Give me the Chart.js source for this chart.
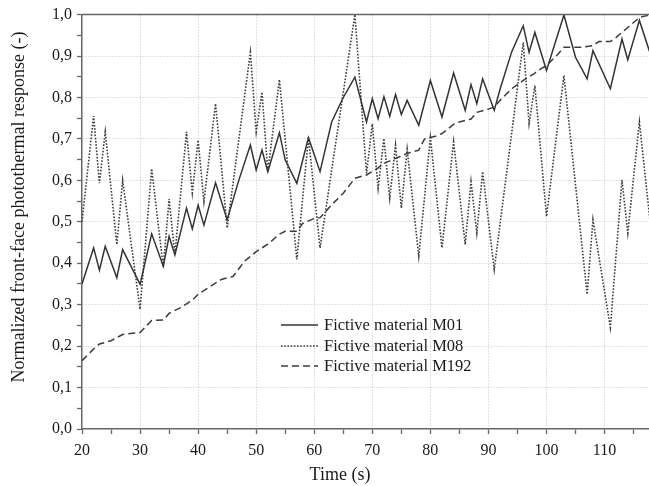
<!DOCTYPE html>
<html>
<head>
<meta charset="utf-8">
<script src="https://cdn.jsdelivr.net/npm/chart.js@4/dist/chart.umd.min.js"></script>
<style>
  html, body { margin: 0; padding: 0; background: #fff; overflow: hidden; }
  #wrap { width: 649px; height: 486px; overflow: hidden; position: relative; }
  canvas { display: block; }
</style>
</head>
<body>
<div id="wrap"><canvas id="c" width="652" height="486"></canvas></div>
<script>
// ---- Data ----
const xTitle = "Time (s)";
const yTitle = "Normalized front-face photothermal response (-)";
const seriesNames = ["Fictive material M01", "Fictive material M08", "Fictive material M192"];

const m01X = [20,22,23,24,26,27,30,32,34,35,36,38,39,40,41,43,45,47,49,50,51,52,54,55,57,59,61,63,65,67,69,70,71,72,73,74,75,76,78,80,82,84,86,87,88,89,91,92,94,96,97,98,100,103,105,107,108,111,113,114,116,118];
const m01Y = [0.350,0.437,0.383,0.441,0.365,0.433,0.349,0.471,0.393,0.465,0.420,0.533,0.483,0.540,0.492,0.594,0.505,0.600,0.685,0.625,0.673,0.621,0.715,0.649,0.593,0.703,0.621,0.741,0.800,0.849,0.741,0.797,0.749,0.802,0.755,0.807,0.759,0.793,0.733,0.841,0.753,0.859,0.769,0.831,0.785,0.845,0.769,0.820,0.910,0.973,0.909,0.957,0.865,0.999,0.897,0.845,0.913,0.821,0.941,0.891,0.986,0.900];

const m08X = [20,22,23,24,26,27,30,32,34,35,36,38,39,40,41,43,45,49,50,51,52,54,57,59,61,67,69,70,71,72,73,74,75,76,78,80,82,84,86,87,88,89,91,96,97,98,100,103,107,108,111,113,114,116,118];
const m08Y = [0.500,0.755,0.593,0.717,0.445,0.600,0.289,0.628,0.390,0.555,0.421,0.717,0.570,0.697,0.549,0.785,0.485,0.909,0.717,0.813,0.621,0.843,0.409,0.703,0.437,1.000,0.617,0.736,0.581,0.701,0.557,0.685,0.533,0.675,0.417,0.703,0.437,0.693,0.445,0.597,0.473,0.621,0.385,0.933,0.737,0.829,0.513,0.853,0.325,0.505,0.245,0.601,0.473,0.741,0.480];

const m192X = [20,22,23,25,27,30,32,34,35,37,39,40,42,44,46,48,50,52,54,55,57,58,60,61,63,65,67,69,71,72,74,76,78,79,81,82,84,85,87,88,90,91,92,94,96,98,99,100,102,103,106,108,109,111,112,114,116,118];
const m192Y = [0.165,0.193,0.205,0.213,0.228,0.233,0.262,0.263,0.279,0.293,0.311,0.325,0.343,0.361,0.368,0.405,0.428,0.446,0.470,0.477,0.477,0.496,0.508,0.510,0.541,0.569,0.605,0.613,0.630,0.641,0.653,0.665,0.673,0.700,0.707,0.713,0.735,0.741,0.748,0.764,0.772,0.777,0.793,0.821,0.841,0.859,0.869,0.877,0.905,0.921,0.921,0.925,0.935,0.935,0.945,0.969,0.993,1.000];

const xMin = 20, xMax = 118, xStep = 5;
const yMin = 0, yMax = 1, yStep = 0.05;

// ---- Styling ----
const FONT = "'Liberation Serif', 'Times New Roman', serif";
const lineColor = '#333333';
const axisColor = '#666666';
const gridColor = '#c4c4c4';
const textColor = '#1a1a1a';

const toPts = (xs, ys) => xs.map((x, i) => ({ x: x, y: ys[i] }));

const decor = {
  id: 'decor',
  afterDraw(chart) {
    const ctx = chart.ctx;
    const a = chart.chartArea;
    ctx.save();
    // top frame line
    ctx.strokeStyle = axisColor;
    ctx.lineWidth = 1.5;
    ctx.beginPath();
    ctx.moveTo(a.left, a.top);
    ctx.lineTo(a.right, a.top);
    ctx.stroke();
    // axis titles
    ctx.fillStyle = textColor;
    ctx.font = "18px " + FONT;
    ctx.textAlign = 'center';
    ctx.textBaseline = 'middle';
    ctx.fillText(xTitle, 340, 475);
    ctx.save();
    ctx.translate(19, 207);
    ctx.rotate(-Math.PI / 2);
    ctx.fillText(yTitle, 0, 0);
    ctx.restore();
    // legend
    const rows = [325, 346, 366];
    chart.data.datasets.forEach((ds, i) => {
      const y = rows[i];
      ctx.save();
      ctx.strokeStyle = ds.borderColor;
      ctx.lineWidth = ds.borderWidth;
      ctx.setLineDash(ds.borderDash || []);
      ctx.beginPath();
      ctx.moveTo(281, y);
      ctx.lineTo(318, y);
      ctx.stroke();
      ctx.restore();
      ctx.font = "16.5px " + FONT;
      ctx.textAlign = 'left';
      ctx.textBaseline = 'middle';
      ctx.fillStyle = textColor;
      ctx.fillText(ds.label, 324, y + 1);
    });
    ctx.restore();
  }
};

Chart.defaults.font.family = FONT;

new Chart(document.getElementById('c'), {
  type: 'line',
  data: {
    datasets: [
      { label: seriesNames[0], data: toPts(m01X, m01Y), borderColor: lineColor, borderWidth: 1.5, borderDash: [] },
      { label: seriesNames[1], data: toPts(m08X, m08Y), borderColor: '#3c3c3c', borderWidth: 1.6, borderDash: [1.6, 1.6] },
      { label: seriesNames[2], data: toPts(m192X, m192Y), borderColor: '#3c3c3c', borderWidth: 1.5, borderDash: [7, 4] }
    ]
  },
  options: {
    responsive: false,
    animation: false,
    layout: { padding: { left: 0, top: 12, right: 1, bottom: 0 } },
    elements: { point: { radius: 0 }, line: { tension: 0, fill: false } },
    plugins: { legend: { display: false }, tooltip: { enabled: false } },
    scales: {
      x: {
        type: 'linear', min: xMin, max: xMax,
        afterFit: s => { s.height = 57; },
        ticks: {
          stepSize: xStep, autoSkip: false, includeBounds: false, maxRotation: 0,
          padding: 7, color: textColor, font: { size: 16, family: FONT },
          callback: v => (Math.round(v) % 10 === 0 ? String(Math.round(v)) : '')
        },
        grid: {
          color: c => (c.tick && Math.round(c.tick.value) % 10 === 0 && c.tick.value > xMin ? gridColor : 'rgba(0,0,0,0)'),
          tickColor: axisColor, tickLength: 5, tickWidth: 1.3, lineWidth: 1
        },
        border: { color: axisColor, width: 1.5, dash: [1, 2] }
      },
      y: {
        type: 'linear', min: yMin, max: yMax,
        afterFit: s => { s.width = 82; },
        ticks: {
          stepSize: yStep, autoSkip: false, includeBounds: false, padding: 5,
          color: textColor, font: { size: 16, family: FONT },
          callback: v => { const k = Math.round(v * 20); return k % 2 === 0 ? (k / 20).toFixed(1).replace('.', ',') : ''; }
        },
        grid: {
          color: c => { if (!c.tick) return 'rgba(0,0,0,0)'; const k = Math.round(c.tick.value * 20); return (k % 2 === 0 && k > 0 && k < 20) ? gridColor : 'rgba(0,0,0,0)'; },
          tickColor: axisColor, tickLength: 5, tickWidth: 1.3, lineWidth: 1
        },
        border: { color: axisColor, width: 1.5, dash: [1, 2] }
      }
    }
  },
  plugins: [decor]
});
</script>
</body>
</html>
